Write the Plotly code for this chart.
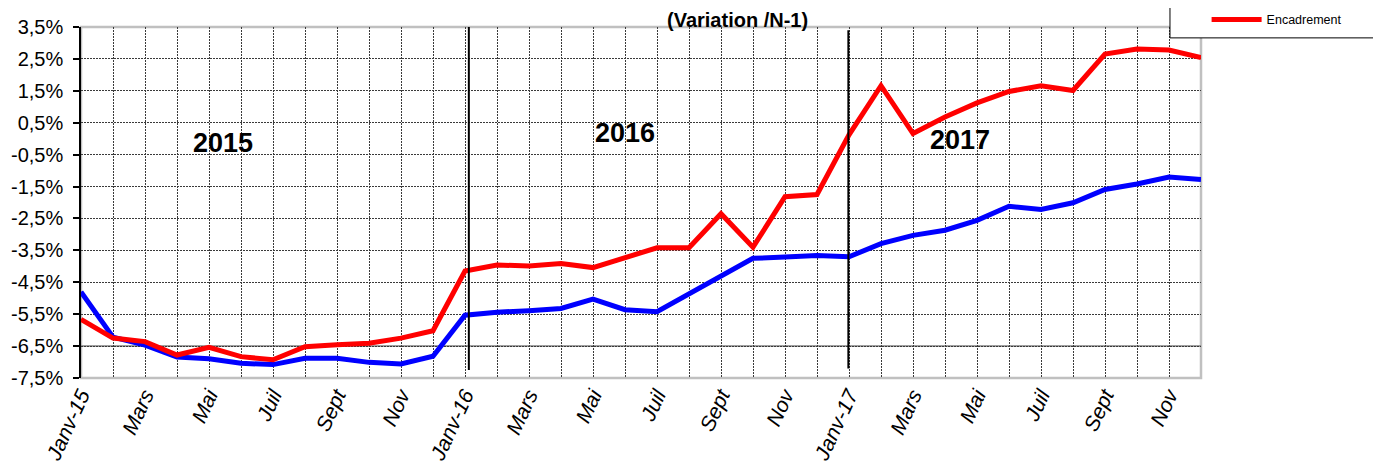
import plotly.graph_objects as go

# ---- data ----
months = ["Janv-15", "Févr", "Mars", "Avr", "Mai", "Juin", "Juil", "Août", "Sept", "Oct", "Nov", "Déc",
          "Janv-16", "Févr", "Mars", "Avr", "Mai", "Juin", "Juil", "Août", "Sept", "Oct", "Nov", "Déc",
          "Janv-17", "Févr", "Mars", "Avr", "Mai", "Juin", "Juil", "Août", "Sept", "Oct", "Nov", "Déc"]
encadrement = [-5.66, -6.25, -6.36, -6.78, -6.54, -6.83, -6.93, -6.52, -6.46, -6.41, -6.25, -6.02,
               -4.15, -3.96, -3.99, -3.91, -4.04, -3.73, -3.42, -3.42, -2.35, -3.40, -1.82, -1.75,
               0.12, 1.66, 0.16, 0.68, 1.12, 1.48, 1.66, 1.51, 2.65, 2.81, 2.78, 2.54]
ensemble = [-4.80, -6.22, -6.47, -6.84, -6.90, -7.04, -7.08, -6.88, -6.88, -7.01, -7.06, -6.82,
            -5.53, -5.44, -5.39, -5.32, -5.03, -5.36, -5.42, -4.85, -4.30, -3.75, -3.71, -3.66,
            -3.70, -3.29, -3.03, -2.87, -2.56, -2.12, -2.22, -2.01, -1.59, -1.42, -1.20, -1.28]
y_ticks = [-7.5, -6.5, -5.5, -4.5, -3.5, -2.5, -1.5, -0.5, 0.5, 1.5, 2.5, 3.5]
y_labels = ["-7,5%", "-6,5%", "-5,5%", "-4,5%", "-3,5%", "-2,5%", "-1,5%", "-0,5%",
            "0,5%", "1,5%", "2,5%", "3,5%"]
years = ["2015", "2016", "2017"]

x = list(range(len(months)))
ticktext = [m if i % 2 == 0 else "" for i, m in enumerate(months)]

FONT = "Arial, Liberation Sans, sans-serif"

fig = go.Figure()
fig.add_trace(go.Scatter(x=x, y=ensemble, mode="lines", name="Ensemble", showlegend=False,
                         line=dict(color="#0000FF", width=5)))
fig.add_trace(go.Scatter(x=x, y=encadrement, mode="lines", name="Encadrement",
                         line=dict(color="#FF0000", width=5)))

shapes = [
    # plot-area border (light gray)
    dict(type="rect", xref="paper", yref="paper", x0=0, x1=1, y0=0, y1=1,
         line=dict(color="#C0C0C0", width=2.5), layer="below"),
    # solid horizontal line at -6,5%
    dict(type="line", xref="paper", yref="y", x0=0, x1=1, y0=-6.5, y1=-6.5,
         line=dict(color="#808080", width=1.5), layer="below"),
    # year separators
    dict(type="line", xref="x", yref="y", x0=12.12, x1=12.12, y0=-7.25, y1=3.6,
         line=dict(color="black", width=2)),
    dict(type="line", xref="x", yref="y", x0=23.98, x1=23.98, y0=-7.2, y1=3.4,
         line=dict(color="black", width=2)),
    # legend box
    dict(type="rect", xref="paper", yref="paper", x0=0.9723, x1=1.158, y0=0.969, y1=1.2,
         line=dict(color="black", width=1), fillcolor="white"),
]

annotations = [
    dict(text="<b>(Variation /N-1)</b>", xref="paper", yref="paper", x=0.586, y=1.02,
         showarrow=False, borderpad=0, font=dict(family=FONT, size=20, color="black"),
         yanchor="middle"),
    dict(text="<b>2015</b>", xref="x", yref="y", x=4.44, y=-0.14, showarrow=False,
         font=dict(family=FONT, size=27, color="black")),
    dict(text="<b>2016</b>", xref="x", yref="y", x=17.0, y=0.18, showarrow=False,
         font=dict(family=FONT, size=27, color="black")),
    dict(text="<b>2017</b>", xref="x", yref="y", x=27.47, y=-0.04, showarrow=False,
         font=dict(family=FONT, size=27, color="black")),
]

fig.update_layout(
    width=1373, height=458,
    margin=dict(l=73, r=180, t=19, b=88, autoexpand=False),
    paper_bgcolor="white", plot_bgcolor="white",
    font=dict(family=FONT, color="black"),
    shapes=shapes, annotations=annotations,
    showlegend=True,
    legend=dict(x=1.005, y=1.020, xanchor="left", yanchor="middle",
                bgcolor="rgba(0,0,0,0)", borderwidth=0,
                font=dict(family=FONT, size=12.5, color="black"), itemwidth=50),
)
fig.update_xaxes(
    range=[0, 35], tickmode="array", tickvals=x, ticktext=ticktext,
    tickangle=-65, tickfont=dict(family=FONT, size=21, color="black", style="italic"),
    showgrid=True, gridcolor="#3A3A3A", gridwidth=1, griddash="2px,1px",
    showline=False, ticks="", zeroline=False, automargin=False,
)
fig.update_yaxes(
    range=[-7.5, 3.5], tickmode="array", tickvals=y_ticks, ticktext=y_labels,
    tickfont=dict(family=FONT, size=20, color="black"),
    showgrid=True, gridcolor="#3A3A3A", gridwidth=1, griddash="2px,1px",
    showline=True, linecolor="black", linewidth=1.5,
    ticks="outside", ticklen=6, tickcolor="black", tickwidth=1.5,
    ticklabelstandoff=6,
    zeroline=False, automargin=False,
)

fig.write_html("out.html")
